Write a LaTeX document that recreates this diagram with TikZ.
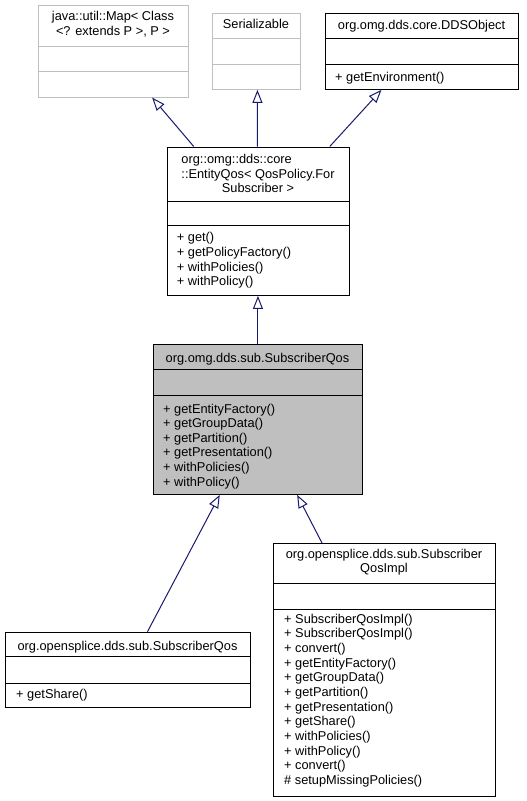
\documentclass[tikz,border=0pt]{standalone}
\usepackage{fontspec}
\setmainfont{Liberation Sans}
\usetikzlibrary{arrows.meta}
\definecolor{navy}{HTML}{191970}
\definecolor{gray75}{HTML}{BFBFBF}
\newcommand\fs{\fontsize{12.8bp}{14.66bp}\selectfont}
\tikzset{
  cls/.style={draw=black, line width=0.9bp, inner sep=0, anchor=north west, fill=white},
  ghost/.style={cls, draw=gray75},
  hl/.style={cls, fill=gray75},
  sep/.style={draw=black, line width=0.9bp},
  gsep/.style={draw=gray75, line width=0.9bp},
  ttl/.style={font=\fs, inner sep=0, anchor=base, text=black},
  mem/.style={font=\fs, inner sep=0, anchor=base west, text=black},
  inh/.style={draw=navy, line width=1bp, -{Triangle[open, length=13bp, width=10bp, fill=white]}}
}
\begin{document}
\begin{tikzpicture}[x=1bp, y=-1bp]
\useasboundingbox (0,0) rectangle (527,801);
\fill[white] (0,0) rectangle (527,801);

% java::util::Map
\node[ghost, minimum width=150bp, minimum height=91.4bp] (map) at (38,5.3) {};
\draw[gsep] (38,46.7) -- (188,46.7);
\draw[gsep] (38,71) -- (188,71);
\node[ttl] (map1) at (113,20.7) {java::util::Map< Class};
\node[ttl] (map2) at (113,36) {<? extends P >, P >};

% Serializable
\node[ghost, minimum width=88bp, minimum height=76bp] (ser) at (212,13) {};
\draw[gsep] (212,38.7) -- (300,38.7);
\draw[gsep] (212,64.3) -- (300,64.3);
\node[ttl] (ser1) at (256,29) {Serializable};

% DDSObject
\node[cls, minimum width=193bp, minimum height=76bp] (dds) at (325,13) {};
\draw[sep] (325,38.7) -- (518,38.7);
\draw[sep] (325,64.3) -- (518,64.3);
\node[ttl] (dds1) at (421.5,29.3) {org.omg.dds.core.DDSObject};
\node[mem] (ddsm1) at (335,81) {+ getEnvironment()};

% EntityQos
\node[cls, minimum width=182bp, minimum height=148.5bp] (ent) at (167,146.5) {};
\draw[sep] (167,201.5) -- (349,201.5);
\draw[sep] (167,225.5) -- (349,225.5);
\node[ttl] (ent2) at (258,178) {::EntityQos< QosPolicy.For};
\node[mem] (ent1) at ([yshift=14.7bp]ent2.base west) {org::omg::dds::core};
\node[ttl] (ent3) at (258,192.7) {Subscriber >};
\foreach \t [count=\i] in {+ get(), + getPolicyFactory(), + withPolicies(), + withPolicy()}
  \node[mem] (entm\i) at (176.7,{241.7+14.66*(\i-1)}) {\t};

% SubscriberQos (highlighted)
\node[hl, minimum width=209bp, minimum height=150bp] (sq) at (153,344) {};
\draw[sep] (153,369) -- (362,369);
\draw[sep] (153,395) -- (362,395);
\node[ttl] (sq1) at (257.5,362.5) {org.omg.dds.sub.SubscriberQos};
\foreach \t [count=\i] in {+ getEntityFactory(), + getGroupData(), + getPartition(), + getPresentation(), + withPolicies(), + withPolicy()}
  \node[mem] (sqm\i) at (163,{413+14.66*(\i-1)}) {\t};

% opensplice SubscriberQos
\node[cls, minimum width=245bp, minimum height=75bp] (os) at (5,631.7) {};
\draw[sep] (5,656.7) -- (250,656.7);
\draw[sep] (5,683.3) -- (250,683.3);
\node[ttl] (os1) at (127.5,650) {org.opensplice.dds.sub.SubscriberQos};
\node[mem] (osm1) at (16,698.3) {+ getShare()};

% SubscriberQosImpl
\node[cls, minimum width=222bp, minimum height=252.7bp] (impl) at (273,543.3) {};
\draw[sep] (273,583.3) -- (495,583.3);
\draw[sep] (273,609.3) -- (495,609.3);
\node[ttl] (impl1) at (384,558.3) {org.opensplice.dds.sub.Subscriber};
\node[ttl] (impl2) at (384,572.7) {QosImpl};
\foreach \t [count=\i] in {+ SubscriberQosImpl(), + SubscriberQosImpl(), + convert(), + getEntityFactory(), + getGroupData(), + getPartition(), + getPresentation(), + getShare(), + withPolicies(), + withPolicy(), + convert(), \# setupMissingPolicies()}
  \node[mem] (implm\i) at (284,{623.3+14.65*(\i-1)}) {\t};

% inheritance connectors
\draw[inh] ([xshift=-64.7bp]ent.north) -- ([xshift=38.7bp]map.south);
\draw[inh] ([xshift=-1bp]ent.north) -- ([xshift=1bp]ser.south);
\draw[inh] ([xshift=71.3bp]ent.north) -- ([xshift=-40.5bp]dds.south);
\draw[inh] (sq.north) -- (sq.north |- ent.south);
\draw[inh] ([xshift=19.5bp]os.north) -- ([xshift=-38.2bp]sq.south);
\draw[inh] ([xshift=-62.3bp]impl.north) -- ([xshift=39.2bp]sq.south);
\end{tikzpicture}
\end{document}
